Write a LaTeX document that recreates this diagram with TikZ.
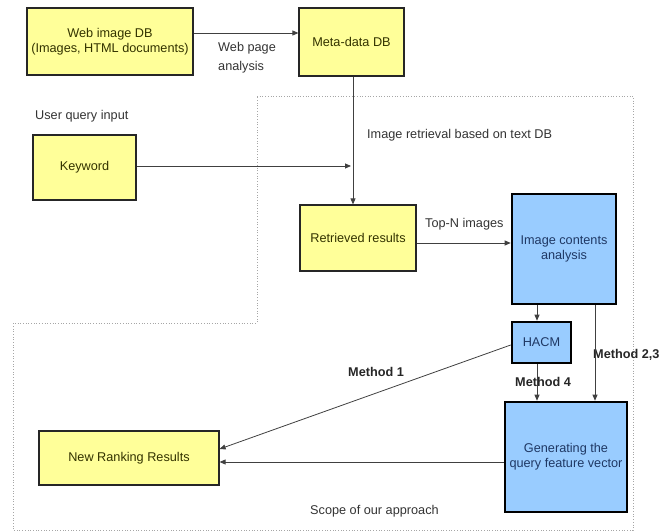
\documentclass[tikz,border=0pt]{standalone}
\usepackage{fontspec}
\setmainfont{Liberation Sans}
\usetikzlibrary{arrows.meta}
\definecolor{boxyellow}{HTML}{FFFF99}
\definecolor{boxblue}{HTML}{99CCFF}
\definecolor{bluetext}{HTML}{1F3864}
\definecolor{ytext}{HTML}{333300}
\begin{document}
\begin{tikzpicture}[x=1pt,y=-1pt,
  every node/.style={font=\fontsize{12.7}{15}\selectfont},
  ybox/.style={draw=black!85, line width=1.2pt, fill=boxyellow, text=ytext, align=center, inner sep=0pt},
  bbox/.style={draw=black, line width=2.6pt, fill=boxblue, text=bluetext, align=center, inner sep=0pt},
  conn/.style={draw=black!75, line width=0.8pt, -{Triangle[length=6pt,width=5pt]}},
  lbl/.style={text=black!80, inner sep=0pt},
  mlbl/.style={font=\fontsize{12.7}{15}\selectfont\bfseries, text=black!85, inner sep=0pt},
  scopeline/.style={draw=black!35, line width=0.7pt, dotted}
]
\useasboundingbox (0,0) rectangle (665,532);
% scope region
\draw[scopeline] (257,96) -- (633,96) -- (633,530) -- (13,530) -- (13,323) -- (257,323) -- cycle;

% nodes
\node[ybox, minimum width=166pt, minimum height=67pt] (web) at (110,41.5) {Web image DB\\(Images, HTML documents)};
\node[ybox, minimum width=105pt, minimum height=68pt] (meta) at (351.5,42) {Meta-data DB};
\node[ybox, minimum width=103pt, minimum height=65pt] (kw) at (84.5,167.5) {Keyword};
\node[ybox, minimum width=116pt, minimum height=66pt] (ret) at (358,238) {Retrieved results};
\node[bbox, minimum width=104pt, minimum height=110pt] (ica) at (564,249) {Image contents\\analysis};
\node[bbox, minimum width=59pt, minimum height=41pt] (hacm) at (541.5,342.5) {HACM};
\node[bbox, minimum width=122pt, minimum height=110pt] (gen) at (566,457) {Generating the\\query feature vector};
\node[ybox, minimum width=180pt, minimum height=54pt] (nrr) at (129,458) {New Ranking Results};

% labels
\node[lbl, anchor=west, align=left, font=\fontsize{12.7}{19}\selectfont] (wpa) at (218,58) {Web page\\analysis};
\node[lbl, anchor=west] (uqi) at (35,116) {User query input};
\node[lbl, anchor=west] (irb) at (367,135) {Image retrieval based on text DB};
\node[lbl, anchor=west] (topn) at (425,224) {Top-N images};
\node[lbl, anchor=west] (sco) at (310,511) {Scope of our approach};
\node[mlbl, anchor=west] (m23) at (593,355) {Method 2,3};
\node[mlbl, anchor=west] (m4) at (515,382) {Method 4};
\node[mlbl, anchor=west] (m1) at (348,372) {Method 1};

% connectors
\draw[conn] (web.east |- 0,33) -- (meta.west |- 0,33);
\draw[conn] (meta.south -| 353,0) -- (ret.north -| 353,0);
\coordinate (kwend) at (351,166);
\draw[conn] (kw.east |- 0,166) -- (kwend);
\draw[conn] (ret.east |- 0,243) -- (ica.west |- 0,243);
\draw[conn] (ica.south -| 537,0) -- (hacm.north -| 537,0);
\draw[conn] (ica.south -| 595,0) -- (gen.north -| 595,0);
\draw[conn] (hacm.south -| 537,0) -- (gen.north -| 537,0);
\draw[conn] (hacm.west |- 0,345) -- (nrr.east |- 0,449);
\draw[conn] (gen.west |- 0,462) -- (nrr.east |- 0,462);
\end{tikzpicture}
\end{document}
